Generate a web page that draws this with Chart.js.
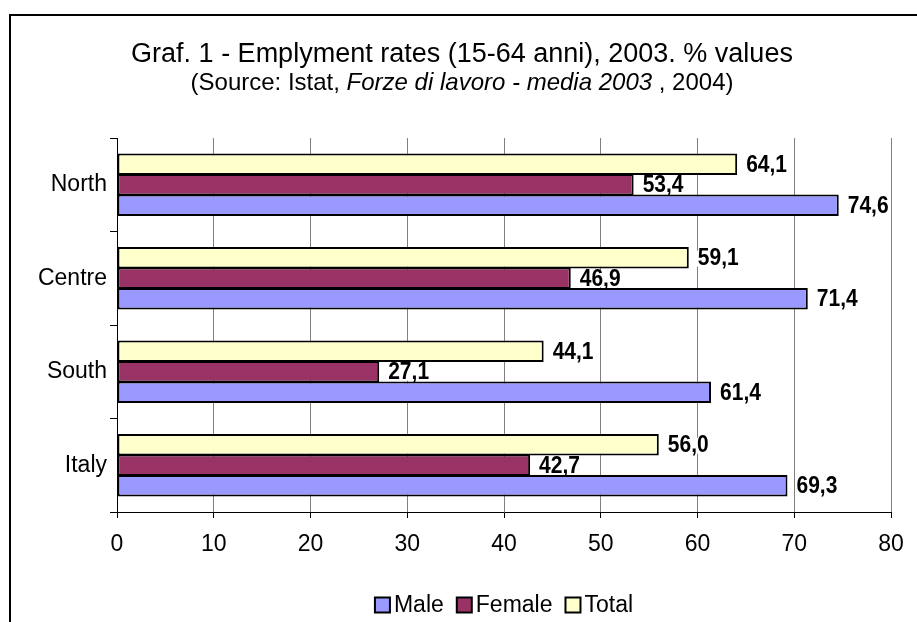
<!DOCTYPE html>
<html>
<head>
<meta charset="utf-8">
<script src="https://cdn.jsdelivr.net/npm/chart.js@4/dist/chart.umd.min.js"></script>
<style>
  html, body { margin: 0; padding: 0; background: #fff; }
  canvas { display: block; }
</style>
</head>
<body>
<canvas id="chart" width="917" height="622"></canvas>
<script>
const categories = ['North', 'Centre', 'South', 'Italy']
const maleValues   = [74.6, 71.4, 61.4, 69.3]
const femaleValues = [53.4, 46.9, 27.1, 42.7]
const totalValues  = [64.1, 59.1, 44.1, 56.0]
const xTicks = [0, 10, 20, 30, 40, 50, 60, 70, 80]

const FONT = '"Liberation Sans", Arial, sans-serif'
const COLORS = { male: '#9999FF', female: '#993366', total: '#FFFFCC' }

const fmt = v => v.toFixed(1).replace('.', ',')

// white page + outer frame (right/bottom edges fall outside the picture)
const framePlugin = {
  id: 'frame',
  beforeDraw(chart) {
    const ctx = chart.ctx
    ctx.save()
    ctx.fillStyle = '#fff'
    ctx.fillRect(0, 0, chart.width, chart.height)
    ctx.strokeStyle = '#000'
    ctx.lineWidth = 2
    ctx.beginPath()
    ctx.moveTo(10, chart.height + 2)
    ctx.lineTo(10, 15)
    ctx.lineTo(chart.width + 2, 15)
    ctx.stroke()
    ctx.restore()
  }
}

// title with italic part in the subtitle
const titlePlugin = {
  id: 'titles',
  afterDraw(chart) {
    const ctx = chart.ctx
    const cx = 462
    ctx.save()
    ctx.fillStyle = '#000'
    ctx.textBaseline = 'middle'
    ctx.textAlign = 'center'
    ctx.font = `27px ${FONT}`
    ctx.fillText('Graf. 1 - Emplyment rates (15-64 anni), 2003. % values', cx, 55)

    const parts = [
      { t: '(Source: Istat, ', f: `24px ${FONT}` },
      { t: 'Forze di lavoro - media 2003', f: `italic 24px ${FONT}` },
      { t: ' , 2004)', f: `24px ${FONT}` },
    ]
    let w = 0
    parts.forEach(p => { ctx.font = p.f; p.w = ctx.measureText(p.t).width; w += p.w })
    let x = cx - w / 2
    ctx.textAlign = 'left'
    parts.forEach(p => { ctx.font = p.f; ctx.fillText(p.t, x, 83); x += p.w })
    ctx.restore()
  }
}

// value labels at bar ends (slightly tall glyphs like the original)
const labelPlugin = {
  id: 'barLabels',
  afterDatasetsDraw(chart) {
    const ctx = chart.ctx
    ctx.save()
    ctx.font = `bold 21px ${FONT}`
    ctx.textBaseline = 'middle'
    ctx.textAlign = 'left'
    chart.data.datasets.forEach((ds, di) => {
      const meta = chart.getDatasetMeta(di)
      meta.data.forEach((bar, i) => {
        const txt = fmt(ds.data[i])
        const x = bar.x + 9
        const y = bar.y + 1
        const tw = ctx.measureText(txt).width
        ctx.fillStyle = '#fff'
        ctx.fillRect(x - 1, y - 8, tw + 2, 16)
        ctx.fillStyle = '#000'
        ctx.save()
        ctx.translate(x, y)
        ctx.scale(1, 1.12)
        ctx.fillText(txt, 0, 0)
        ctx.restore()
      })
    })
    ctx.restore()
  }
}

// legend under the plot, centred on the plot area
const legendPlugin = {
  id: 'customLegend',
  afterDraw(chart) {
    const ctx = chart.ctx
    const items = [
      { label: 'Male', color: COLORS.male },
      { label: 'Female', color: COLORS.female },
      { label: 'Total', color: COLORS.total },
    ]
    ctx.save()
    ctx.font = `23px ${FONT}`
    ctx.textBaseline = 'middle'
    const box = 15, gap = 4, sep = 13
    let w = 0
    items.forEach((it, i) => { it.w = ctx.measureText(it.label).width; w += box + gap + it.w + (i ? sep : 0) })
    const area = chart.chartArea
    let x = (area.left + area.right) / 2 - w / 2
    const y = 605
    items.forEach(it => {
      ctx.fillStyle = it.color
      ctx.fillRect(x, y - box / 2, box, box)
      ctx.strokeStyle = '#000'
      ctx.lineWidth = 2
      ctx.strokeRect(x, y - box / 2, box, box)
      ctx.fillStyle = '#000'
      ctx.fillText(it.label, x + box + gap, y + 1)
      x += box + gap + it.w + sep
    })
    ctx.restore()
  }
}

const barStyle = { borderColor: '#000', borderWidth: 2, borderSkipped: false, categoryPercentage: 0.66, barPercentage: 1.05 }

new Chart(document.getElementById('chart'), {
  type: 'bar',
  data: {
    labels: categories,
    datasets: [
      { label: 'Total',  data: totalValues,  backgroundColor: COLORS.total,  ...barStyle },
      { label: 'Female', data: femaleValues, backgroundColor: COLORS.female, ...barStyle },
      { label: 'Male',   data: maleValues,   backgroundColor: COLORS.male,   ...barStyle },
    ]
  },
  options: {
    indexAxis: 'y',
    responsive: false,
    animation: false,
    devicePixelRatio: 1,
    layout: { padding: { top: 138, right: 26, bottom: 0, left: 0 } },
    plugins: { legend: { display: false }, title: { display: false }, tooltip: { enabled: false } },
    scales: {
      x: {
        min: 0, max: 80,
        afterBuildTicks: s => { s.ticks = xTicks.map(v => ({ value: v })) },
        afterFit: s => { s.height = 110 },
        grid: { color: '#808080', lineWidth: 1, tickColor: '#000', tickLength: 6 },
        border: { color: '#000', width: 1 },
        ticks: { color: '#000', font: { family: FONT, size: 23 }, padding: 13, maxRotation: 0 }
      },
      y: {
        afterFit: s => { s.width = 117 },
        grid: { drawOnChartArea: false, color: '#000', tickLength: 7, offset: true },
        border: { color: '#000', width: 1 },
        ticks: { color: '#000', font: { family: FONT, size: 23 }, padding: 3 }
      }
    }
  },
  plugins: [framePlugin, labelPlugin, titlePlugin, legendPlugin]
})
</script>
</body>
</html>
